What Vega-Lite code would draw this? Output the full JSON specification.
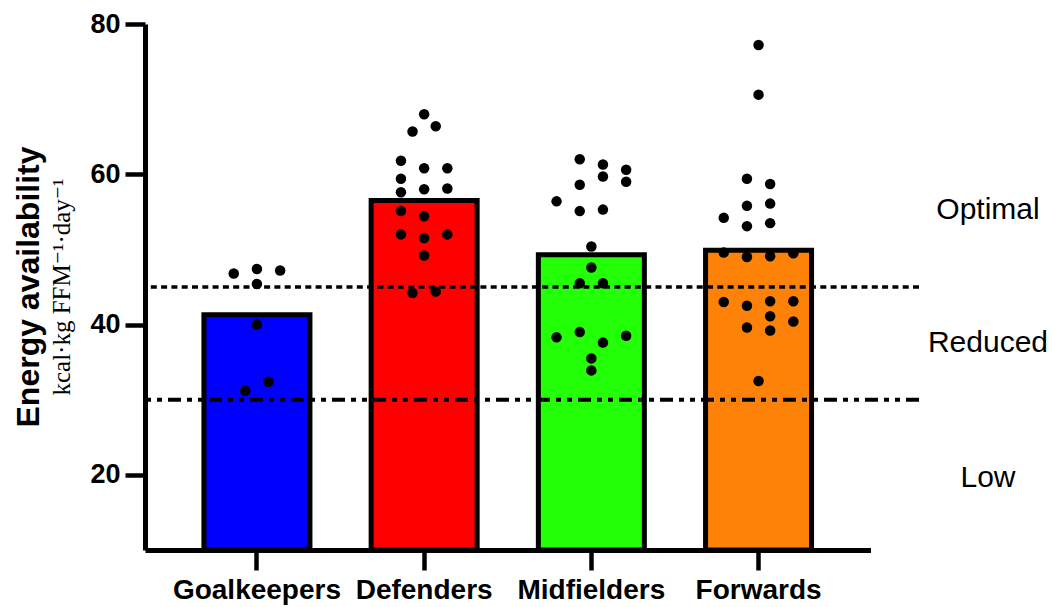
{
  "$schema": "https://vega.github.io/schema/vega-lite/v6.json",
  "width": 774,
  "height": 526,
  "autosize": {"type": "none"},
  "padding": {"left": 145, "top": 24, "right": 136, "bottom": 57},
  "background": "white",
  "config": {"view": {"stroke": null}, "font": "Liberation Sans"},
  "title": {
    "text": "Energy availability",
    "subtitle": "kcal·kg FFM⁻¹·day⁻¹",
    "orient": "left",
    "anchor": "middle",
    "font": "Liberation Sans",
    "fontSize": 32,
    "fontWeight": "bold",
    "color": "black",
    "subtitleFont": "Liberation Serif, DejaVu Serif",
    "subtitleFontSize": 25,
    "subtitleColor": "black",
    "subtitlePadding": 4,
    "offset": 14
  },
  "datasets": {
    "means": [
      {"position": "Goalkeepers", "ea": 41.3},
      {"position": "Defenders", "ea": 56.5},
      {"position": "Midfielders", "ea": 49.3},
      {"position": "Forwards", "ea": 49.9}
    ],
    "players": [
      {"position": "Goalkeepers", "ea": 46.8, "lane": -2},
      {"position": "Goalkeepers", "ea": 47.4, "lane": 0},
      {"position": "Goalkeepers", "ea": 47.2, "lane": 2},
      {"position": "Goalkeepers", "ea": 45.4, "lane": 0},
      {"position": "Goalkeepers", "ea": 40.0, "lane": 0},
      {"position": "Goalkeepers", "ea": 32.4, "lane": 1},
      {"position": "Goalkeepers", "ea": 31.2, "lane": -1},
      {"position": "Defenders", "ea": 68.0, "lane": 0},
      {"position": "Defenders", "ea": 65.7, "lane": -1},
      {"position": "Defenders", "ea": 66.4, "lane": 1},
      {"position": "Defenders", "ea": 61.8, "lane": -2},
      {"position": "Defenders", "ea": 60.8, "lane": 0},
      {"position": "Defenders", "ea": 60.8, "lane": 2},
      {"position": "Defenders", "ea": 59.4, "lane": -2},
      {"position": "Defenders", "ea": 57.6, "lane": -2},
      {"position": "Defenders", "ea": 58.0, "lane": 0},
      {"position": "Defenders", "ea": 58.1, "lane": 2},
      {"position": "Defenders", "ea": 55.1, "lane": -2},
      {"position": "Defenders", "ea": 54.4, "lane": 0},
      {"position": "Defenders", "ea": 52.0, "lane": -2},
      {"position": "Defenders", "ea": 51.5, "lane": 0},
      {"position": "Defenders", "ea": 52.0, "lane": 2},
      {"position": "Defenders", "ea": 49.2, "lane": 0},
      {"position": "Defenders", "ea": 44.2, "lane": -1},
      {"position": "Defenders", "ea": 44.4, "lane": 1},
      {"position": "Midfielders", "ea": 62.0, "lane": -1},
      {"position": "Midfielders", "ea": 61.3, "lane": 1},
      {"position": "Midfielders", "ea": 60.6, "lane": 3},
      {"position": "Midfielders", "ea": 59.7, "lane": 1},
      {"position": "Midfielders", "ea": 59.0, "lane": 3},
      {"position": "Midfielders", "ea": 58.6, "lane": -1},
      {"position": "Midfielders", "ea": 56.4, "lane": -3},
      {"position": "Midfielders", "ea": 55.1, "lane": -1},
      {"position": "Midfielders", "ea": 55.3, "lane": 1},
      {"position": "Midfielders", "ea": 50.4, "lane": 0},
      {"position": "Midfielders", "ea": 47.6, "lane": 0},
      {"position": "Midfielders", "ea": 45.5, "lane": -1},
      {"position": "Midfielders", "ea": 45.5, "lane": 1},
      {"position": "Midfielders", "ea": 38.3, "lane": -3},
      {"position": "Midfielders", "ea": 39.0, "lane": -1},
      {"position": "Midfielders", "ea": 38.5, "lane": 3},
      {"position": "Midfielders", "ea": 37.6, "lane": 1},
      {"position": "Midfielders", "ea": 35.5, "lane": 0},
      {"position": "Midfielders", "ea": 33.9, "lane": 0},
      {"position": "Forwards", "ea": 77.2, "lane": 0},
      {"position": "Forwards", "ea": 70.6, "lane": 0},
      {"position": "Forwards", "ea": 59.4, "lane": -1},
      {"position": "Forwards", "ea": 58.7, "lane": 1},
      {"position": "Forwards", "ea": 55.8, "lane": -1},
      {"position": "Forwards", "ea": 56.1, "lane": 1},
      {"position": "Forwards", "ea": 54.2, "lane": -3},
      {"position": "Forwards", "ea": 53.1, "lane": -1},
      {"position": "Forwards", "ea": 53.5, "lane": 1},
      {"position": "Forwards", "ea": 49.6, "lane": -3},
      {"position": "Forwards", "ea": 49.0, "lane": -1},
      {"position": "Forwards", "ea": 49.1, "lane": 1},
      {"position": "Forwards", "ea": 49.5, "lane": 3},
      {"position": "Forwards", "ea": 43.0, "lane": -3},
      {"position": "Forwards", "ea": 42.5, "lane": -1},
      {"position": "Forwards", "ea": 43.1, "lane": 1},
      {"position": "Forwards", "ea": 43.1, "lane": 3},
      {"position": "Forwards", "ea": 41.1, "lane": 1},
      {"position": "Forwards", "ea": 40.4, "lane": 3},
      {"position": "Forwards", "ea": 39.6, "lane": -1},
      {"position": "Forwards", "ea": 39.2, "lane": 1},
      {"position": "Forwards", "ea": 32.5, "lane": 0}
    ],
    "optimalCutoff": [{"ea": 45}],
    "lowCutoff": [{"ea": 30}],
    "zones": [
      {"zone": "Optimal", "ea": 55.3},
      {"zone": "Reduced", "ea": 37.6},
      {"zone": "Low", "ea": 19.6}
    ]
  },
  "layer": [
    {
      "data": {"name": "means"},
      "mark": {"type": "bar", "stroke": "black", "strokeWidth": 5, "width": {"expr": "bandwidth('x')"}},
      "encoding": {
        "x": {
          "field": "position",
          "type": "nominal",
          "sort": ["Goalkeepers", "Defenders", "Midfielders", "Forwards"],
          "scale": {"range": [0, 725.5], "paddingInner": 0.366, "paddingOuter": 0.3525},
          "axis": {
            "title": null,
            "labelAngle": 0,
            "labelFont": "Liberation Sans",
            "labelFontSize": 28,
            "labelFontWeight": "bold",
            "labelColor": "black",
            "labelPadding": 6,
            "tickSize": 20,
            "tickWidth": 4.5,
            "tickColor": "black",
            "domainColor": "black",
            "domainWidth": 5,
            "grid": false
          }
        },
        "y": {
          "field": "ea",
          "type": "quantitative",
          "scale": {"domain": [10, 80], "nice": false, "zero": false},
          "axis": {
            "title": null,
            "values": [20, 40, 60, 80],
            "labelFont": "Liberation Sans",
            "labelFontSize": 27,
            "labelFontWeight": "bold",
            "labelColor": "black",
            "labelPadding": 5,
            "tickSize": 20,
            "tickWidth": 4.5,
            "tickColor": "black",
            "domainColor": "black",
            "domainWidth": 5,
            "grid": false
          }
        },
        "y2": {"datum": 10},
        "fill": {
          "field": "position",
          "type": "nominal",
          "scale": {
            "domain": ["Goalkeepers", "Defenders", "Midfielders", "Forwards"],
            "range": ["#0000ff", "#ff0000", "#22ff06", "#ff8208"]
          },
          "legend": null
        }
      }
    },
    {
      "data": {"name": "optimalCutoff"},
      "mark": {"type": "rule", "color": "black", "strokeWidth": 3.5, "strokeDash": [6, 4.3]},
      "encoding": {"y": {"field": "ea", "type": "quantitative"}}
    },
    {
      "data": {"name": "lowCutoff"},
      "mark": {"type": "rule", "color": "black", "strokeWidth": 4, "strokeDash": [13, 6, 5, 6, 5, 6]},
      "encoding": {"y": {"field": "ea", "type": "quantitative"}}
    },
    {
      "data": {"name": "players"},
      "mark": {"type": "point", "filled": true, "color": "black", "opacity": 1, "size": 110, "shape": "circle"},
      "encoding": {
        "x": {"field": "position", "type": "nominal", "sort": ["Goalkeepers", "Defenders", "Midfielders", "Forwards"]},
        "xOffset": {"field": "lane", "type": "quantitative", "scale": {"domain": [-3, 3], "range": [18.2, 87.8]}},
        "y": {"field": "ea", "type": "quantitative"}
      }
    },
    {
      "data": {"name": "zones"},
      "mark": {"type": "text", "font": "Liberation Sans", "fontSize": 30, "align": "center", "baseline": "middle", "dx": 69, "color": "black"},
      "encoding": {
        "x": {"value": "width"},
        "y": {"field": "ea", "type": "quantitative"},
        "text": {"field": "zone"}
      }
    }
  ]
}
